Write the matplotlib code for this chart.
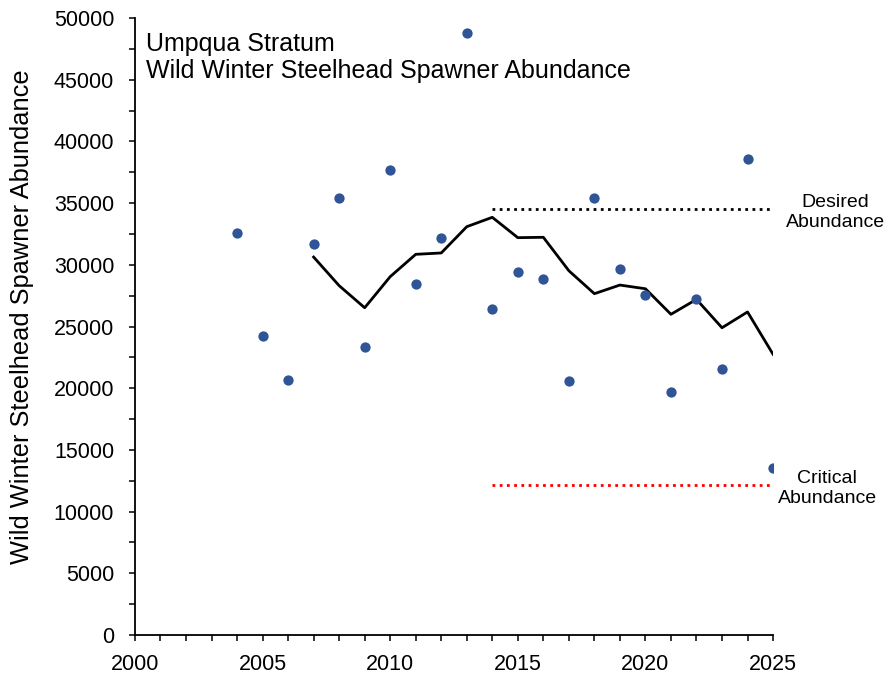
import matplotlib
matplotlib.use("Agg")
import matplotlib.pyplot as plt
from matplotlib.ticker import MultipleLocator

plt.rcParams['font.family'] = ['Liberation Sans', 'DejaVu Sans']

# Annual spawner abundance estimates
years = [2004, 2005, 2006, 2007, 2008, 2009, 2010, 2011, 2012, 2013, 2014,
         2015, 2016, 2017, 2018, 2019, 2020, 2021, 2022, 2023, 2024, 2025]
abundance = [32550, 24200, 20700, 31650, 35400, 23300, 37700, 28450, 32200,
             48800, 26400, 29400, 28850, 20600, 35400, 29650, 27550, 19700,
             27200, 21550, 38550, 13500]

# Running average trend line
trend_years = [2007, 2008, 2009, 2010, 2011, 2012, 2013, 2014, 2015, 2016,
               2017, 2018, 2019, 2020, 2021, 2022, 2023, 2024, 2025]
trend = [30630, 28310, 26520, 29040, 30850, 30960, 33090, 33850, 32200, 32230,
         29520, 27660, 28360, 28060, 25990, 27200, 24900, 26180, 22750]

# Reference abundance levels
ref_years = [2014, 2025]
desired = 34550
critical = 12130

fig = plt.figure(figsize=(8.85, 6.77), dpi=100)
ax = fig.add_axes([0.1525, 0.062, 0.7210, 0.9114])

ax.scatter(years, abundance, s=55, color='#2F5597', zorder=3, linewidths=0)
ax.plot(trend_years, trend, color='black', lw=2, zorder=2)
ax.plot(ref_years, [desired, desired], color='black', lw=2,
        linestyle=(0, (1, 1.6)), zorder=1)
ax.plot(ref_years, [critical, critical], color='#FF0000', lw=2,
        linestyle=(0, (1, 1.6)), zorder=1)

ax.set_xlim(2000, 2025)
ax.set_ylim(0, 50000)
ax.xaxis.set_major_locator(MultipleLocator(5))
ax.xaxis.set_minor_locator(MultipleLocator(1))
ax.yaxis.set_major_locator(MultipleLocator(5000))
ax.yaxis.set_minor_locator(MultipleLocator(2500))

for s in ('top', 'right'):
    ax.spines[s].set_visible(False)
for s in ('left', 'bottom'):
    ax.spines[s].set_linewidth(1.3)

ax.tick_params(axis='both', which='both', direction='out', length=4.5,
               width=1.1, labelsize=15.5)
ax.tick_params(axis='y', which='major', pad=10.5)
ax.tick_params(axis='x', which='major', pad=9.5)
ax.set_ylabel('Wild Winter Steelhead Spawner Abundance', fontsize=18.3)
ax.yaxis.set_label_coords(-0.158, 0.516)

ax.text(0.018, 0.978, 'Umpqua Stratum\nWild Winter Steelhead Spawner Abundance',
        transform=ax.transAxes, fontsize=18, va='top', ha='left',
        linespacing=1.2)

ax.annotate('Desired\nAbundance', xy=(1.0, desired), xycoords=('axes fraction', 'data'),
            xytext=(62, -4), textcoords='offset pixels', ha='center',
            va='center', fontsize=14, linespacing=1.25, annotation_clip=False)
ax.annotate('Critical\nAbundance', xy=(1.0, critical), xycoords=('axes fraction', 'data'),
            xytext=(54, -3), textcoords='offset pixels', ha='center',
            va='center', fontsize=14, linespacing=1.25, annotation_clip=False)

fig.savefig('out.png', dpi=100)
